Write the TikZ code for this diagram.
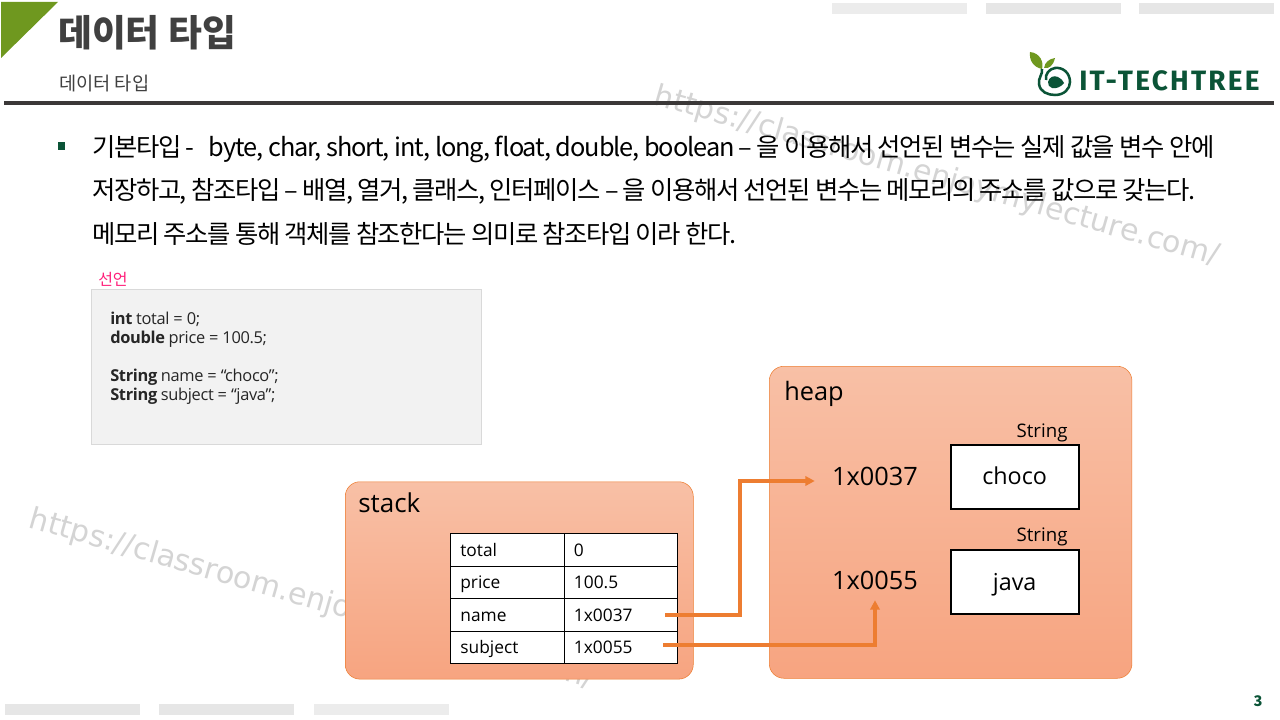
\documentclass[tikz,border=0pt]{standalone}
\usepackage{fontspec}
\usepackage{xcolor}
\setmainfont{Noto Sans CJK KR}
\newfontfamily\krtight[LetterSpace=-5.5]{Noto Sans CJK KR}
\newfontfamily\krlatin[LetterSpace=-4.3]{Noto Sans CJK KR}
\newfontfamily\labelfont{Open Sans}
\newfontfamily\codefont[LetterSpace=-2]{Open Sans}
\newfontfamily\logofont[LetterSpace=8]{Fira Sans}
\newfontfamily\markfont{DejaVu Sans}
\usetikzlibrary{arrows.meta, positioning}
\definecolor{leafgreen}{HTML}{6F981F}
\definecolor{logogreen}{HTML}{0B5437}
\definecolor{headdark}{HTML}{3B3838}
\definecolor{linkorange}{HTML}{ED7D31}
\definecolor{barlight}{HTML}{E6E6E6}
\definecolor{declpink}{HTML}{FF1F7A}
\definecolor{memtop}{HTML}{F8C0A6}
\definecolor{membot}{HTML}{F7A480}

\begin{document}
\begin{tikzpicture}[x=0.75pt, y=-0.75pt,
    bar/.style={fill=barlight, draw=none},
    memory/.style={rectangle, draw=linkorange, top color=memtop, bottom color=membot, rounded corners=11pt, inner sep=0pt, anchor=north west},
    cell/.style={rectangle, draw=black, fill=white, line width=0.7pt, outer sep=0pt, inner xsep=7.4pt, inner ysep=0pt, minimum height=24.4pt, text width=70.4pt, align=left, text height=10.9pt, text depth=1.1pt, font=\labelfont\fontsize{13}{15}\selectfont},
    addr/.style={rectangle, minimum width=90pt, minimum height=30pt, inner sep=0pt, font=\labelfont\fontsize{19}{22}\selectfont},
    objbox/.style={rectangle, draw=black, fill=white, line width=1.7pt, minimum width=96pt, minimum height=48pt, inner sep=0pt, anchor=north west, text height=15.7pt, text depth=3.3pt, font=\labelfont\fontsize{17.5}{20}\selectfont},
    typelabel/.style={inner sep=0pt, font=\labelfont\fontsize{14}{16}\selectfont},
    link/.style={draw=linkorange, line width=2.6pt, -{Triangle[length=7pt, width=7pt]}},
    watermark/.style={rotate=-16, anchor=west, inner sep=0pt, text=black!17, font=\markfont\fontsize{22.5}{26}\selectfont}]

    \useasboundingbox (0,0) rectangle (1280,720);
    \fill[white] (0,0) rectangle (1280,720);

    % watermarks
    \node (markTop) [watermark] at (655,96) {https://classroom.enjoymylecture.com/};
    \node (markBottom) [watermark] at (30,519) {https://classroom.enjoymylecture.com/};

    % header
    \fill[leafgreen] (1,2) -- (58,2) -- (1,58) -- cycle;
    \node (title) [anchor=west, inner sep=0pt, text=black!75, font=\bfseries\fontsize{27.6}{30}\selectfont] at (58,33) {데이터 타입};
    \node (subtitle) [anchor=west, inner sep=0pt, text=black!75, font=\fontsize{14}{16}\selectfont] at (59,84) {데이터 타입};
    \fill[headdark] (4,101) rectangle (1274,105);
    \fill[bar, fill opacity=0.75] (832,3) rectangle (967,14);
    \fill[bar] (986,3) rectangle (1121,14);
    \fill[bar] (1139,3) rectangle (1274,14);
    \fill[bar] (5,704) rectangle (140,715);
    \fill[bar] (159,704) rectangle (294,715);
    \fill[bar, fill opacity=0.75] (314,704) rectangle (449,715);

    % logo
    \fill[leafgreen] (1030,52) .. controls (1040,53) and (1044,62) .. (1042,69) .. controls (1033,67) and (1029,60) .. (1030,52) -- cycle;
    \fill[leafgreen] (1055,58) .. controls (1053,66) and (1049,69) .. (1044,68) .. controls (1045,62) and (1049,59) .. (1055,58) -- cycle;
    \draw[logogreen, line width=1.9pt] (1042,69) .. controls (1043,74) and (1038,78) .. (1039,84) .. controls (1040,92) and (1048,95) .. (1055,95) .. controls (1064,95) and (1070,89) .. (1070,82) .. controls (1070,73) and (1063,67) .. (1055,68) .. controls (1049,69) and (1045,74) .. (1046,80);
    \fill[logogreen] (1048,82) .. controls (1049,77) and (1054,75) .. (1058,77) .. controls (1061,78) and (1063,81) .. (1064,83) .. controls (1061,87) and (1056,89) .. (1052,88) .. controls (1049,87) and (1048,85) .. (1048,82) -- cycle;
    \node (logoText) [anchor=west, inner sep=0pt, text=logogreen, font=\logofont\bfseries\fontsize{21}{23}\selectfont] at (1079,81) {IT-TECHTREE};

    % body text
    \node (bullet) [rectangle, fill=logogreen, minimum width=5.5pt, minimum height=5.5pt, inner sep=0pt] at (61.5,146) {};
    \node (bodyText) [anchor=west, inner sep=0pt, align=left, font=\krtight\fontsize{19}{32.6}\selectfont] at (92,190.5) {기본타입 -~~\hspace{4.5pt}{\krlatin byte, char, short, int, long, float, double, boolean} – 을 이용해서 선언된 변수는 실제 값을 변수 안에\\
    저장하고, 참조타입 – 배열, 열거, 클래스, 인터페이스 – 을 이용해서 선언된 변수는 메모리의 주소를 값으로 갖는다.\\
    메모리 주소를 통해 객체를 참조한다는 의미로 참조타입 이라 한다.};

    % declaration
    \node (decl) [rectangle, draw=black!15, fill=black!5, minimum width=292.5pt, minimum height=116pt, inner sep=0pt, anchor=north west] at (91,289) {};
    \node (declTitle) [anchor=south west, inner sep=0pt, text=declpink, font=\fontsize{12}{14}\selectfont] at (98,287) {선언};
    \node (declCode) [anchor=north west, inner sep=0pt, align=left, text=black!85, font=\codefont\fontsize{12.3}{14.5}\selectfont] at (110,311.5) {\textbf{int} total = 0;\\\textbf{double} price = 100.5;\\[13.7pt]\textbf{String} name = “choco”;\\\textbf{String} subject = “java”;};

    % stack
    \node (stack) [memory, minimum width=261pt, minimum height=148pt] at (345,481.5) {};
    \node (stackLabel) [anchor=west, inner sep=0pt, font=\labelfont\fontsize{19.5}{21}\selectfont] at (358,503) {stack};
    \node (totalKey) [cell, anchor=north west] at (450.5,533.5) {total};
    \node (totalVal) [cell, right=0pt of totalKey] {0};
    \node (priceKey) [cell, below=0pt of totalKey] {price};
    \node (priceVal) [cell, right=0pt of priceKey] {100.5};
    \node (nameKey) [cell, below=0pt of priceKey] {name};
    \node (nameVal) [cell, right=0pt of nameKey] {1x0037};
    \node (subjectKey) [cell, below=0pt of nameKey] {subject};
    \node (subjectVal) [cell, right=0pt of subjectKey] {1x0055};

    % heap
    \node (heap) [memory, minimum width=272pt, minimum height=234pt] at (769,366) {};
    \node (heapLabel) [anchor=west, inner sep=0pt, font=\labelfont\fontsize{19}{21}\selectfont] at (784,394) {heap};
    \node (addrOne) [addr] at (875,476) {1x0037};
    \node (addrTwo) [addr] at (875,580) {1x0055};
    \node (objChoco) [objbox] at (949.5,443.5) {choco};
    \node (objJava) [objbox] at (949.5,549) {java};
    \node (typeChoco) [typelabel, anchor=south east, xshift=-9pt, yshift=1pt] at (objChoco.north east) {String};
    \node (typeJava) [typelabel, anchor=south east, xshift=-9pt, yshift=2pt] at (objJava.north east) {String};

    % references
    \coordinate (nameOut) at (665,615);
    \coordinate (subjectOut) at (663,645);
    \draw[link] (nameOut) -| (740,481) -- (addrOne.west |- 0,481);
    \draw[link] (subjectOut) -| (addrTwo.south);

    \node (pageNum) [inner sep=0pt, text=logogreen, font=\bfseries\fontsize{11}{13}\selectfont] at (1258,701) {3};
\end{tikzpicture}
\end{document}
